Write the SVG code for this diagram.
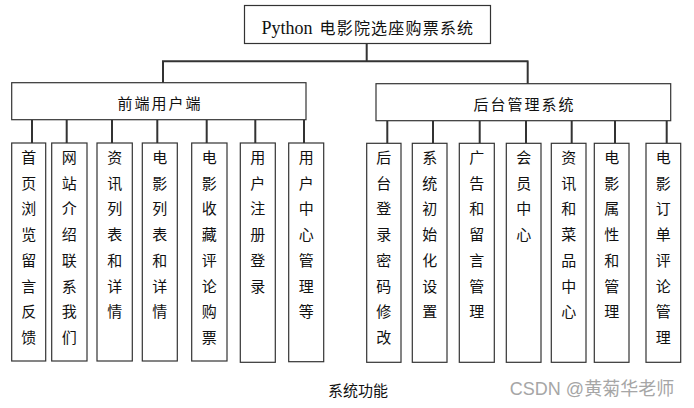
<svg xmlns="http://www.w3.org/2000/svg" width="694" height="408" viewBox="0 0 694 408">
<style>
.box{fill:#fff;stroke:#333;stroke-width:1.2}
.ln{stroke:#333;stroke-width:2;fill:none}
.cn{font-family:"Noto Sans CJK SC","Liberation Sans",sans-serif;font-size:15px;fill:#111;text-anchor:middle}
.lbl{font-family:"Noto Sans CJK SC","Liberation Sans",sans-serif;font-size:15px;fill:#111;text-anchor:middle;letter-spacing:2px}
</style>
<rect width="694" height="408" fill="#fff"/>
<g id="connectors">
<path class="ln" d="M366.7 43.5V61.3M162 61.3H528.5M163 61.3V83M527.7 61.3V84"/>
<path class="ln" d="M32 120V143M66.7 120V143M112 120V143M157.3 120V143M206.7 120V143M255.3 120V143M304 120V143"/>
<path class="ln" d="M387.3 121V143M433 121V143M479.7 121V143M526 121V143M571.7 121V143M615 121V143M666.7 121V143"/>
</g>
<g id="root">
<rect class="box" x="244.5" y="5.5" width="246" height="38"/>
<text y="33.5" style="fill:#111"><tspan x="261.5" style="font-family:'Liberation Serif',serif;font-size:18px">Python</tspan><tspan x="319.5" y="34" style="font-family:'Noto Sans CJK SC',sans-serif;font-size:16px;letter-spacing:1.2px">电影院选座购票系统</tspan></text>
</g>
<g id="frontend">
<rect class="box" x="11.7" y="82.7" width="294.3" height="37"/>
<text class="lbl" x="160" y="108.5">前端用户端</text>
</g>
<g id="backend">
<rect class="box" x="376" y="83.7" width="294.7" height="37"/>
<text class="lbl" x="524.5" y="109.5">后台管理系统</text>
</g>
<g id="f1"><rect class="box" x="11.7" y="143" width="34" height="218"/><text class="cn" y="163"><tspan x="28.7">首</tspan><tspan x="28.7" dy="25.7">页</tspan><tspan x="28.7" dy="25.7">浏</tspan><tspan x="28.7" dy="25.7">览</tspan><tspan x="28.7" dy="25.7">留</tspan><tspan x="28.7" dy="25.7">言</tspan><tspan x="28.7" dy="25.7">反</tspan><tspan x="28.7" dy="25.7">馈</tspan></text></g>
<g id="f2"><rect class="box" x="51.7" y="143" width="35.3" height="218"/><text class="cn" y="163"><tspan x="69.3">网</tspan><tspan x="69.3" dy="25.7">站</tspan><tspan x="69.3" dy="25.7">介</tspan><tspan x="69.3" dy="25.7">绍</tspan><tspan x="69.3" dy="25.7">联</tspan><tspan x="69.3" dy="25.7">系</tspan><tspan x="69.3" dy="25.7">我</tspan><tspan x="69.3" dy="25.7">们</tspan></text></g>
<g id="f3"><rect class="box" x="97" y="143" width="35.3" height="218"/><text class="cn" y="163"><tspan x="114.7">资</tspan><tspan x="114.7" dy="25.7">讯</tspan><tspan x="114.7" dy="25.7">列</tspan><tspan x="114.7" dy="25.7">表</tspan><tspan x="114.7" dy="25.7">和</tspan><tspan x="114.7" dy="25.7">详</tspan><tspan x="114.7" dy="25.7">情</tspan></text></g>
<g id="f4"><rect class="box" x="142.3" y="143" width="35" height="218"/><text class="cn" y="163"><tspan x="159.8">电</tspan><tspan x="159.8" dy="25.7">影</tspan><tspan x="159.8" dy="25.7">列</tspan><tspan x="159.8" dy="25.7">表</tspan><tspan x="159.8" dy="25.7">和</tspan><tspan x="159.8" dy="25.7">详</tspan><tspan x="159.8" dy="25.7">情</tspan></text></g>
<g id="f5"><rect class="box" x="191.7" y="143" width="35.3" height="218"/><text class="cn" y="163"><tspan x="209.3">电</tspan><tspan x="209.3" dy="25.7">影</tspan><tspan x="209.3" dy="25.7">收</tspan><tspan x="209.3" dy="25.7">藏</tspan><tspan x="209.3" dy="25.7">评</tspan><tspan x="209.3" dy="25.7">论</tspan><tspan x="209.3" dy="25.7">购</tspan><tspan x="209.3" dy="25.7">票</tspan></text></g>
<g id="f6"><rect class="box" x="240.3" y="143" width="35" height="219.3"/><text class="cn" y="163"><tspan x="257.8">用</tspan><tspan x="257.8" dy="25.7">户</tspan><tspan x="257.8" dy="25.7">注</tspan><tspan x="257.8" dy="25.7">册</tspan><tspan x="257.8" dy="25.7">登</tspan><tspan x="257.8" dy="25.7">录</tspan></text></g>
<g id="f7"><rect class="box" x="288.7" y="143" width="35" height="218.7"/><text class="cn" y="163"><tspan x="306.2">用</tspan><tspan x="306.2" dy="25.7">户</tspan><tspan x="306.2" dy="25.7">中</tspan><tspan x="306.2" dy="25.7">心</tspan><tspan x="306.2" dy="25.7">管</tspan><tspan x="306.2" dy="25.7">理</tspan><tspan x="306.2" dy="25.7">等</tspan></text></g>
<g id="b1"><rect class="box" x="366.7" y="143.3" width="34.3" height="219"/><text class="cn" y="163"><tspan x="383.8">后</tspan><tspan x="383.8" dy="25.7">台</tspan><tspan x="383.8" dy="25.7">登</tspan><tspan x="383.8" dy="25.7">录</tspan><tspan x="383.8" dy="25.7">密</tspan><tspan x="383.8" dy="25.7">码</tspan><tspan x="383.8" dy="25.7">修</tspan><tspan x="383.8" dy="25.7">改</tspan></text></g>
<g id="b2"><rect class="box" x="412.3" y="143.3" width="34.7" height="219"/><text class="cn" y="163"><tspan x="429.7">系</tspan><tspan x="429.7" dy="25.7">统</tspan><tspan x="429.7" dy="25.7">初</tspan><tspan x="429.7" dy="25.7">始</tspan><tspan x="429.7" dy="25.7">化</tspan><tspan x="429.7" dy="25.7">设</tspan><tspan x="429.7" dy="25.7">置</tspan></text></g>
<g id="b3"><rect class="box" x="459.3" y="143.3" width="35" height="219"/><text class="cn" y="163"><tspan x="476.8">广</tspan><tspan x="476.8" dy="25.7">告</tspan><tspan x="476.8" dy="25.7">和</tspan><tspan x="476.8" dy="25.7">留</tspan><tspan x="476.8" dy="25.7">言</tspan><tspan x="476.8" dy="25.7">管</tspan><tspan x="476.8" dy="25.7">理</tspan></text></g>
<g id="b4"><rect class="box" x="506.3" y="143.3" width="34.7" height="219"/><text class="cn" y="163"><tspan x="523.7">会</tspan><tspan x="523.7" dy="25.7">员</tspan><tspan x="523.7" dy="25.7">中</tspan><tspan x="523.7" dy="25.7">心</tspan></text></g>
<g id="b5"><rect class="box" x="551.3" y="143.3" width="34.7" height="219"/><text class="cn" y="163"><tspan x="568.7">资</tspan><tspan x="568.7" dy="25.7">讯</tspan><tspan x="568.7" dy="25.7">和</tspan><tspan x="568.7" dy="25.7">菜</tspan><tspan x="568.7" dy="25.7">品</tspan><tspan x="568.7" dy="25.7">中</tspan><tspan x="568.7" dy="25.7">心</tspan></text></g>
<g id="b6"><rect class="box" x="594.3" y="143.3" width="34.7" height="219"/><text class="cn" y="163"><tspan x="611.7">电</tspan><tspan x="611.7" dy="25.7">影</tspan><tspan x="611.7" dy="25.7">属</tspan><tspan x="611.7" dy="25.7">性</tspan><tspan x="611.7" dy="25.7">和</tspan><tspan x="611.7" dy="25.7">管</tspan><tspan x="611.7" dy="25.7">理</tspan></text></g>
<g id="b7"><rect class="box" x="646" y="143.3" width="34.7" height="219"/><text class="cn" y="163"><tspan x="663.3">电</tspan><tspan x="663.3" dy="25.7">影</tspan><tspan x="663.3" dy="25.7">订</tspan><tspan x="663.3" dy="25.7">单</tspan><tspan x="663.3" dy="25.7">评</tspan><tspan x="663.3" dy="25.7">论</tspan><tspan x="663.3" dy="25.7">管</tspan><tspan x="663.3" dy="25.7">理</tspan></text></g>
<text class="cn" x="358" y="395.5">系统功能</text>
<text x="592" y="394.5" style="font-family:'Liberation Sans','Noto Sans CJK SC',sans-serif;font-size:18px;fill:#a6a6a6;text-anchor:middle">CSDN @黄菊华老师</text>
</svg>
